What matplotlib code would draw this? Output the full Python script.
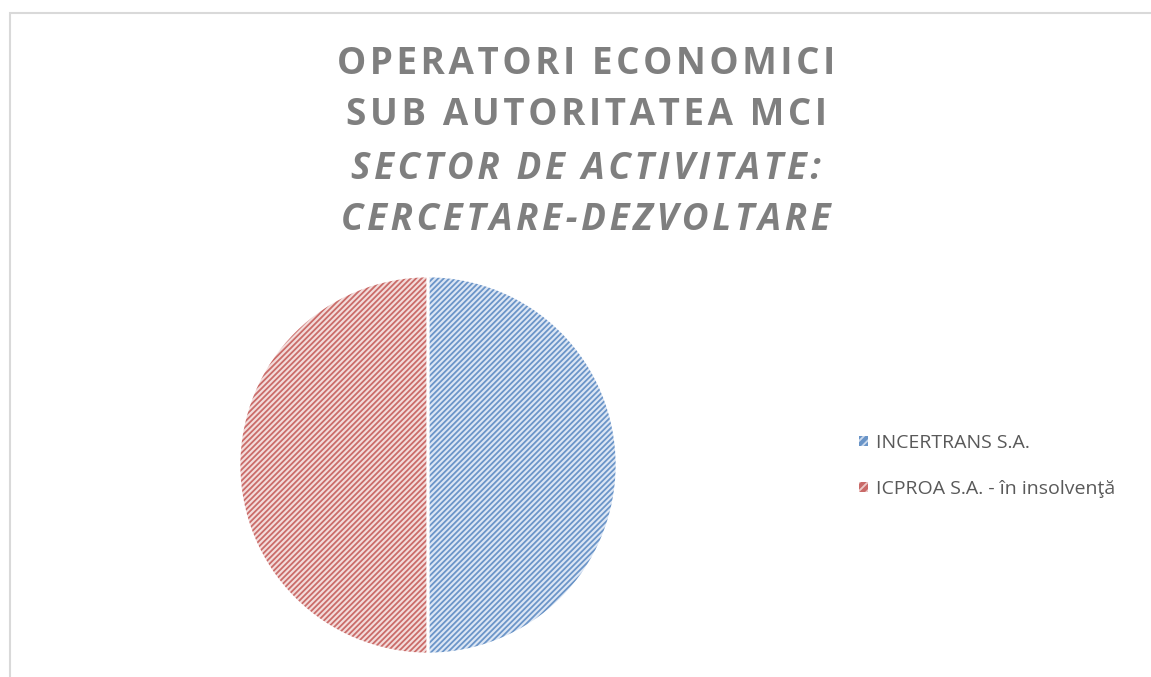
import matplotlib.pyplot as plt
from matplotlib.patches import Patch, Rectangle

# data
companies = ['INCERTRANS S.A.', 'ICPROA S.A. - în insolvenţă']
shares = [1, 1]
fill_colors = ['#dce6f4', '#f3dcdb']
hatch_colors = ['#4f81bd', '#c0504d']
title_lines = ['OPERATORI ECONOMICI', 'SUB AUTORITATEA MCI',
               'SECTOR DE ACTIVITATE:', 'CERCETARE-DEZVOLTARE']

plt.rcParams['font.family'] = ['Open Sans', 'DejaVu Sans']
plt.rcParams['hatch.linewidth'] = 1.3

W, H = 1151, 677
fig = plt.figure(figsize=(W / 100, H / 100), dpi=100)

# chart area border (light grey, only top and left visible)
fig.add_artist(Rectangle((10 / W, -0.1), 1.2, 1 - 13 / H + 0.1, transform=fig.transFigure,
                         facecolor='none', edgecolor='#d9d9d9', linewidth=1.5))

# pie
cx, cy, r = 428, 465, 189
ax = fig.add_axes([(cx - r) / W, (H - cy - r) / H, 2 * r / W, 2 * r / H])
ax.pie(shares, colors=fill_colors, startangle=90, counterclock=False,
       wedgeprops=dict(edgecolor='none', linewidth=0))
hw, _ = ax.pie(shares, colors=['none', 'none'], startangle=90, counterclock=False,
               wedgeprops=dict(linewidth=0))
for w, c in zip(hw, hatch_colors):
    w.set_hatch('//////')
    w.set_edgecolor(c)
    w.set_alpha(0.8)
ax.pie(shares, colors=['none', 'none'], startangle=90, counterclock=False,
       wedgeprops=dict(edgecolor='white', linewidth=2))
ax.set_xlim(-1, 1)
ax.set_ylim(-1, 1)
ax.axis('off')

# title, letter-spaced with hair spaces
sp = '\u200a'
ys = [62, 113, 167, 218]
for i, (line, y) in enumerate(zip(title_lines, ys)):
    spaced = sp.join(line)
    fig.text(586 / W, 1 - (y + 2) / H, spaced, ha='center', va='center', fontsize=26.5,
             fontweight='bold', color='#7f7f7f',
             fontstyle='italic' if i >= 2 else 'normal')

# legend
handles = [Patch(facecolor=c, edgecolor=f, hatch='////', linewidth=0, alpha=0.85)
           for f, c in zip(fill_colors, hatch_colors)]
leg = fig.legend(handles, companies, loc='center left', bbox_to_anchor=(842 / W, 1 - 466 / H),
                 frameon=False, fontsize=14, handlelength=0.42, handleheight=0.42,
                 handletextpad=0.45, labelspacing=1.45, labelcolor='#595959')

fig.savefig('out.png', dpi=100)
